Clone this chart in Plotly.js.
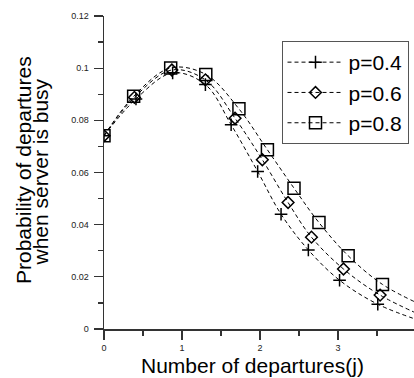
<!DOCTYPE html>
<html>
<head>
<meta charset="utf-8">
<script src="https://cdn.plot.ly/plotly-3.0.1.min.js"></script>
<style>
  html, body { margin: 0; padding: 0; background: #fff; }
  #chart { width: 414px; height: 378px; }
</style>
</head>
<body>
<div id="chart"></div>
<script>
// Probability of departures when the server is busy, for three load levels p.
// Each series: measured points, plus the fitted curve's value past the right edge.
const seriesNames = ['p=0.4', 'p=0.6', 'p=0.8'];

const xP04 = [0, 0.41, 0.88, 1.30, 1.63, 1.97, 2.27, 2.62, 3.02, 3.51, 4.1];
const yP04 = [0.0741, 0.0882, 0.0982, 0.0937, 0.0783, 0.0604, 0.0440, 0.0303, 0.0187, 0.0095, 0.0027];

const xP06 = [0, 0.39, 0.87, 1.30, 1.68, 2.03, 2.36, 2.66, 3.07, 3.54, 4.1];
const yP06 = [0.0741, 0.0888, 0.0993, 0.0955, 0.0808, 0.0649, 0.0485, 0.0352, 0.0230, 0.0130, 0.0048];

const xP08 = [0, 0.38, 0.855, 1.305, 1.73, 2.095, 2.436, 2.756, 3.13, 3.57, 4.1];
const yP08 = [0.0741, 0.0892, 0.1001, 0.0976, 0.0844, 0.0687, 0.0540, 0.0408, 0.0281, 0.0171, 0.0088];

const xTickVals = [0, 1, 2, 3];
const yTickVals = [0, 0.02, 0.04, 0.06, 0.08, 0.1, 0.12];
const yTickText = ['0', '0.02', '0.04', '0.06', '0.08', '0.1', '0.12'];

const xTitle = 'Number of departures(j)';
const yTitleLines = ['Probability of departures', 'when server is busy'];

const symbols = ['cross-thin-open', 'diamond-open', 'square-open'];
const sizes = [9, 9, 12];
const xs = [xP04, xP06, xP08];
const ys = [yP04, yP06, yP08];

const FONT = 'Arial, Liberation Sans, sans-serif';

const traces = seriesNames.map((name, i) => ({
  type: 'scatter',
  mode: 'lines+markers',
  name: name,
  x: xs[i],
  y: ys[i],
  line: { shape: 'spline', smoothing: 1, color: '#000', width: 1, dash: '4px,3px' },
  marker: { symbol: symbols[i], size: sizes[i], color: '#000', line: { color: '#000', width: 1.5 } },
  cliponaxis: true
}));

const W = 414, H = 378;
const mL = 104, mR = 0, mT = 16, mB = 49;
const plotW = W - mL - mR, plotH = H - mT - mB;
const pxX = px => (px - mL) / plotW;
const pxY = py => (H - mB - py) / plotH;

const titleFont = { family: FONT, size: 21, color: '#000' };

const layout = {
  width: W,
  height: H,
  margin: { l: mL, r: mR, t: mT, b: mB, autoexpand: false },
  paper_bgcolor: '#fff',
  plot_bgcolor: '#fff',
  showlegend: true,
  legend: {
    x: pxX(281.5), y: pxY(41), xanchor: 'left', yanchor: 'top',
    bordercolor: '#555', borderwidth: 1, bgcolor: '#fff',
    font: { family: FONT, size: 21, color: '#000' },
    itemwidth: 56, tracegroupgap: 0
  },
  xaxis: {
    range: [0, plotW / 78],
    tickvals: xTickVals,
    ticktext: xTickVals.map(String),
    ticks: 'outside', ticklen: 9, tickwidth: 1.2, tickcolor: '#333',
    minor: { dtick: 0.5, ticks: 'outside', ticklen: 5, tickwidth: 1.2, tickcolor: '#333' },
    showline: true, linecolor: '#333', linewidth: 1.5,
    showgrid: false, zeroline: false,
    tickfont: { family: FONT, size: 9, color: '#222' },
    ticklabelstandoff: 1,
    automargin: false
  },
  yaxis: {
    range: [0, 0.12],
    tickvals: yTickVals,
    ticktext: yTickText,
    ticks: 'outside', ticklen: 9, tickwidth: 1.2, tickcolor: '#333',
    minor: { dtick: 0.01, ticks: 'outside', ticklen: 5, tickwidth: 1.2, tickcolor: '#333' },
    showline: true, linecolor: '#333', linewidth: 1.5,
    showgrid: false, zeroline: false,
    tickfont: { family: FONT, size: 9, color: '#222' },
    ticklabelstandoff: 3,
    automargin: false
  },
  annotations: [
    { text: xTitle, xref: 'paper', yref: 'paper', x: pxX(252), y: pxY(365),
      xanchor: 'center', yanchor: 'middle', showarrow: false, font: titleFont },
    { text: yTitleLines[0], xref: 'paper', yref: 'paper', x: pxX(24), y: pxY(170),
      xanchor: 'center', yanchor: 'middle', textangle: -90, showarrow: false, font: titleFont },
    { text: yTitleLines[1], xref: 'paper', yref: 'paper', x: pxX(40), y: pxY(172.5),
      xanchor: 'center', yanchor: 'middle', textangle: -90, showarrow: false, font: titleFont }
  ]
};

Plotly.newPlot('chart', traces, layout, { staticPlot: true, displayModeBar: false });
</script>
</body>
</html>
